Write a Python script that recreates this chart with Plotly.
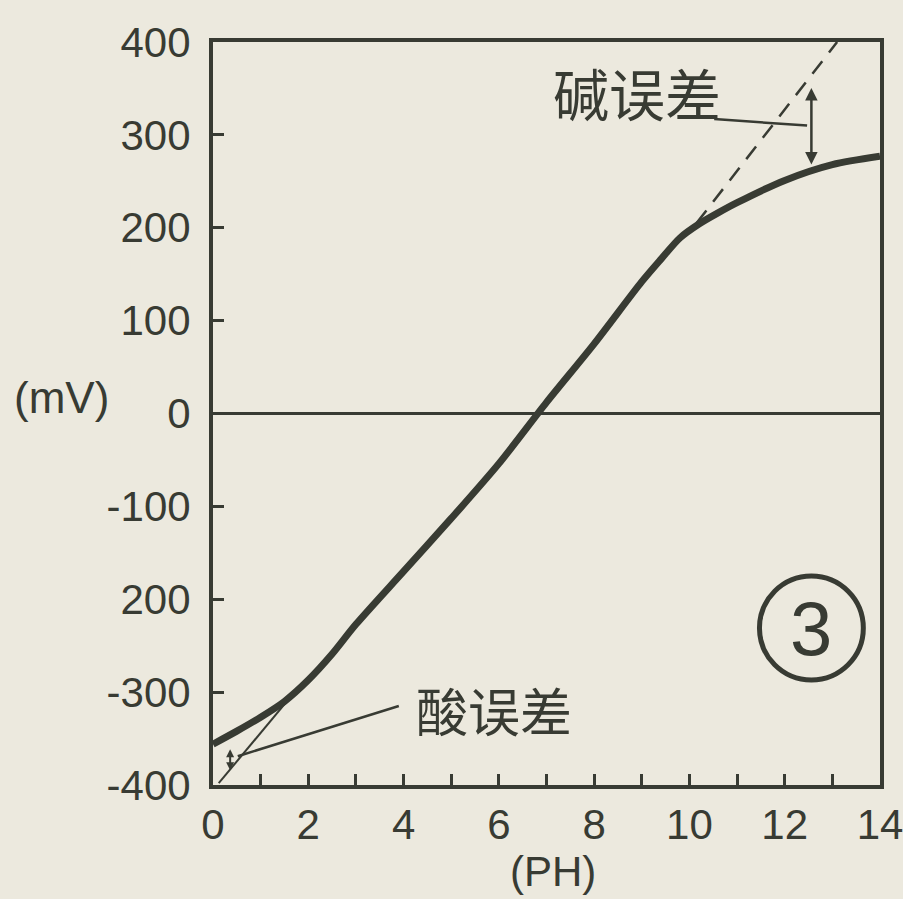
import plotly.graph_objects as go

# ---- data ----
ph_values = [0, 0.5, 1.0, 1.5, 2.0, 2.5, 3.0, 4.0, 5.0, 6.0, 7.0, 8.0, 9.0, 9.4, 9.8, 10.2, 10.6, 11.0, 12.0, 13.0, 14.0]
mv_values = [-356, -342, -327, -310, -287, -259, -227, -170, -113, -54, 12, 75, 142, 166, 189, 204, 216, 227, 251, 268, 277]

ideal_alkali_ph = [10.15, 13.1]
ideal_alkali_mv = [205, 400]
ideal_acid_ph = [0.12, 1.55]
ideal_acid_mv = [-398, -310]

alkali_err_ph = 12.56
alkali_err_mv = [352, 268]
acid_err_ph = 0.36
acid_err_mv = [-360, -384]

alkali_label = "碱误差"
alkali_label_pos = (8.9, 347)
alkali_leader_ph = [10.52, 12.47]
alkali_leader_mv = [317, 310]

acid_label = "酸误差"
acid_label_pos = (5.9, -319)
acid_leader_ph = [3.9, 0.52]
acid_leader_mv = [-315, -369]

panel_label = "3"
panel_center = (12.56, -231)

x_ticks = [0, 2, 4, 6, 8, 10, 12, 14]
x_ticklabels = ["0", "2", "4", "6", "8", "10", "12", "14"]
y_ticks = [400, 300, 200, 100, 0, -100, -200, -300, -400]
y_ticklabels = ["400", "300", "200", "100", "0", "-100", "200", "-300", "-400"]

ink = "#383b33"
bg = "#ece9de"
tick_font = dict(family="Liberation Sans, sans-serif", size=42, color=ink)
cjk_font = dict(family="Noto Sans CJK SC", size=52, color=ink)

fig = go.Figure()

# main response curve
fig.add_trace(go.Scatter(x=ph_values, y=mv_values, mode="lines",
                         line=dict(color=ink, width=7, shape="spline", smoothing=0.8),
                         hoverinfo="skip", showlegend=False))
# ideal (theoretical) extension, alkaline side
fig.add_trace(go.Scatter(x=ideal_alkali_ph, y=ideal_alkali_mv, mode="lines",
                         line=dict(color=ink, width=2.5, dash="16px,11px"),
                         hoverinfo="skip", showlegend=False))
# ideal extension, acid side
fig.add_trace(go.Scatter(x=ideal_acid_ph, y=ideal_acid_mv, mode="lines",
                         line=dict(color=ink, width=2),
                         hoverinfo="skip", showlegend=False))
# leader lines
fig.add_trace(go.Scatter(x=alkali_leader_ph, y=alkali_leader_mv, mode="lines",
                         line=dict(color=ink, width=2.5), hoverinfo="skip", showlegend=False))
fig.add_trace(go.Scatter(x=acid_leader_ph, y=acid_leader_mv, mode="lines",
                         line=dict(color=ink, width=2.5), hoverinfo="skip", showlegend=False))

annotations = []
# double-headed arrows showing the errors
annotations.append(dict(x=alkali_err_ph, y=alkali_err_mv[1], ax=alkali_err_ph, ay=alkali_err_mv[0],
                        xref="x", yref="y", axref="x", ayref="y", text="", showarrow=True,
                        arrowhead=2, startarrowhead=2, arrowside="end+start", arrowwidth=2.5,
                        arrowsize=1, arrowcolor=ink))
annotations.append(dict(x=acid_err_ph, y=acid_err_mv[1], ax=acid_err_ph, ay=acid_err_mv[0],
                        xref="x", yref="y", axref="x", ayref="y", text="", showarrow=True,
                        arrowhead=2, startarrowhead=2, arrowside="end+start", arrowwidth=2,
                        arrowsize=0.8, arrowcolor=ink))
# labels
annotations.append(dict(x=alkali_label_pos[0], y=alkali_label_pos[1], xref="x", yref="y",
                        xanchor="center", yanchor="middle",
                        text=alkali_label, showarrow=False, font=dict(cjk_font, size=56)))
annotations.append(dict(x=acid_label_pos[0], y=acid_label_pos[1], xref="x", yref="y",
                        xanchor="center", yanchor="middle",
                        text=acid_label, showarrow=False, font=cjk_font))
annotations.append(dict(x=panel_center[0], y=panel_center[1], xref="x", yref="y",
                        xanchor="center", yanchor="middle",
                        text=panel_label, showarrow=False,
                        font=dict(family="Liberation Sans, sans-serif", size=76, color=ink)))
# axis titles
annotations.append(dict(x=-0.227, y=0.522, xref="paper", yref="paper", text="(mV)",
                        xanchor="center", yanchor="middle",
                        showarrow=False, font=dict(tick_font, size=44)))
annotations.append(dict(x=0.51, y=-0.116, xref="paper", yref="paper", text="(PH)",
                        xanchor="center", yanchor="middle",
                        showarrow=False, font=dict(tick_font, size=42)))

shapes = [dict(type="circle", xref="x", yref="y",
               x0=panel_center[0] - 1.09, x1=panel_center[0] + 1.09,
               y0=panel_center[1] - 56, y1=panel_center[1] + 56,
               line=dict(color=ink, width=5))]

fig.update_layout(
    width=903, height=899,
    margin=dict(l=213, r=23, t=42, b=114),
    paper_bgcolor=bg, plot_bgcolor=bg,
    annotations=annotations, shapes=shapes,
    showlegend=False,
)
fig.update_xaxes(range=[0, 14], tickmode="array", tickvals=x_ticks, ticktext=x_ticklabels,
                 ticks="inside", ticklen=11, tickwidth=2.5, tickcolor=ink,
                 minor=dict(dtick=1, ticks="inside", ticklen=11, tickwidth=2.5, tickcolor=ink, showgrid=False),
                 showline=True, linewidth=4, linecolor=ink, mirror=True, automargin=False,
                 showgrid=False, zeroline=False, tickfont=tick_font, ticklabelstandoff=0,
                 ticklabeloverflow="allow")
fig.update_yaxes(range=[-400, 400], tickmode="array", tickvals=y_ticks, ticktext=y_ticklabels,
                 ticks="inside", ticklen=11, tickwidth=2.5, tickcolor=ink,
                 showline=True, linewidth=4, linecolor=ink, mirror=True, automargin=False,
                 showgrid=False, zeroline=True, zerolinecolor=ink, zerolinewidth=3,
                 tickfont=tick_font, ticklabelstandoff=10, ticklabeloverflow="allow")

fig.write_html("out.html", config={"displayModeBar": False},
               post_script="document.body.style.margin='0';document.body.style.background='%s';" % bg)
